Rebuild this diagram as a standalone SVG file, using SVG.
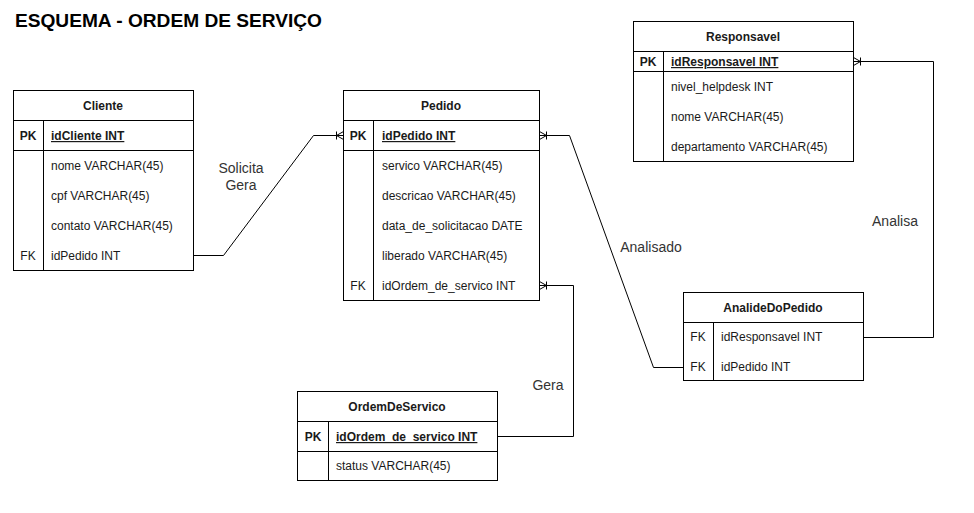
<svg xmlns="http://www.w3.org/2000/svg" width="974" height="513" viewBox="0 0 974 513">
<style>
  .box { fill: #ffffff; stroke: #000000; stroke-width: 1; }
  .ln { stroke: #000000; stroke-width: 1; fill: none; }
  .t { font-family: "Liberation Sans", Arial, sans-serif; font-size: 12px; fill: #1a1a1a; }
  .h { font-family: "Liberation Sans", Arial, sans-serif; font-size: 12px; font-weight: bold; fill: #1a1a1a; text-anchor: middle; }
  .k { text-anchor: middle; }
  .pk { font-weight: bold; }
  .u { text-decoration: underline; }
  .lbl { font-family: "Liberation Sans", Arial, sans-serif; font-size: 14px; fill: #333333; text-anchor: middle; }
  .title { font-family: "Liberation Sans", Arial, sans-serif; font-size: 18px; font-weight: bold; fill: #000000; }
</style>
<defs>
  <marker id="oneMany" markerUnits="userSpaceOnUse" viewBox="-10 -6 12 12" refX="0" refY="0" markerWidth="12" markerHeight="12" orient="auto-start-reverse">
    <path d="M -7 0 L 0 -4 M -7 0 L 0 4 M -7 -4 L -7 4" fill="none" stroke="#000000" stroke-width="1"/>
  </marker>
</defs>
<rect width="974" height="513" fill="#ffffff"/>

<text class="title" x="15" y="27" textLength="307" lengthAdjust="spacingAndGlyphs">ESQUEMA - ORDEM DE SERVIÇO</text>

<g id="connectors">
  <polyline class="ln" points="193.5,255.5 223.5,255.5 313.5,135.5 343.5,135.5" marker-end="url(#oneMany)"/>
  <polyline class="ln" points="539.5,135.5 569.5,135.5 653.5,367.5 683.5,367.5" marker-start="url(#oneMany)"/>
  <polyline class="ln" points="539.5,285.5 573.5,285.5 573.5,436.5 497.5,436.5" marker-start="url(#oneMany)"/>
  <polyline class="ln" points="863.5,337.5 933.5,337.5 933.5,61.5 853.5,61.5" marker-end="url(#oneMany)"/>
  <text class="lbl" x="241" y="173">Solicita</text>
  <text class="lbl" x="241" y="190">Gera</text>
  <text class="lbl" x="651" y="252">Analisado</text>
  <text class="lbl" x="895" y="226">Analisa</text>
  <text class="lbl" x="548" y="390">Gera</text>
</g>

<g id="cliente">
  <rect class="box" x="13.5" y="90.5" width="180" height="180"/>
  <line class="ln" x1="13.5" y1="120.5" x2="193.5" y2="120.5"/>
  <line class="ln" x1="13.5" y1="150.5" x2="193.5" y2="150.5"/>
  <line class="ln" x1="43.5" y1="120.5" x2="43.5" y2="270.5"/>
  <text class="h" x="103" y="110">Cliente</text>
  <text class="t k pk" x="28" y="140">PK</text>
  <text class="t pk u" x="51" y="140">idCliente INT</text>
  <text class="t" x="51" y="170">nome VARCHAR(45)</text>
  <text class="t" x="51" y="200">cpf VARCHAR(45)</text>
  <text class="t" x="51" y="230">contato VARCHAR(45)</text>
  <text class="t k" x="28" y="260">FK</text>
  <text class="t" x="51" y="260">idPedido INT</text>
</g>

<g id="pedido">
  <rect class="box" x="343.5" y="90.5" width="196" height="210"/>
  <line class="ln" x1="343.5" y1="120.5" x2="539.5" y2="120.5"/>
  <line class="ln" x1="343.5" y1="150.5" x2="539.5" y2="150.5"/>
  <line class="ln" x1="373.5" y1="120.5" x2="373.5" y2="300.5"/>
  <text class="h" x="441" y="110">Pedido</text>
  <text class="t k pk" x="358" y="140">PK</text>
  <text class="t pk u" x="382" y="140">idPedido INT</text>
  <text class="t" x="382" y="170">servico VARCHAR(45)</text>
  <text class="t" x="382" y="200">descricao VARCHAR(45)</text>
  <text class="t" x="382" y="230">data_de_solicitacao DATE</text>
  <text class="t" x="382" y="260">liberado VARCHAR(45)</text>
  <text class="t k" x="358" y="290">FK</text>
  <text class="t" x="382" y="290">idOrdem_de_servico INT</text>
</g>

<g id="responsavel">
  <rect class="box" x="633.5" y="21.5" width="220" height="140"/>
  <line class="ln" x1="633.5" y1="51.5" x2="853.5" y2="51.5"/>
  <line class="ln" x1="633.5" y1="71.5" x2="853.5" y2="71.5"/>
  <line class="ln" x1="663.5" y1="51.5" x2="663.5" y2="161.5"/>
  <text class="h" x="743" y="41">Responsavel</text>
  <text class="t k pk" x="648" y="66">PK</text>
  <text class="t pk u" x="671" y="66">idResponsavel INT</text>
  <text class="t" x="671" y="91">nivel_helpdesk INT</text>
  <text class="t" x="671" y="121">nome VARCHAR(45)</text>
  <text class="t" x="671" y="151">departamento VARCHAR(45)</text>
</g>

<g id="analidedopedido">
  <rect class="box" x="683.5" y="292.5" width="180" height="88"/>
  <line class="ln" x1="683.5" y1="322.5" x2="863.5" y2="322.5"/>
  <line class="ln" x1="713.5" y1="322.5" x2="713.5" y2="380.5"/>
  <text class="h" x="773" y="312">AnalideDoPedido</text>
  <text class="t k" x="698" y="341">FK</text>
  <text class="t" x="721" y="341">idResponsavel INT</text>
  <text class="t k" x="698" y="371">FK</text>
  <text class="t" x="721" y="371">idPedido INT</text>
</g>

<g id="ordemdeservico">
  <rect class="box" x="297.5" y="391.5" width="200" height="89"/>
  <line class="ln" x1="297.5" y1="421.5" x2="497.5" y2="421.5"/>
  <line class="ln" x1="297.5" y1="451.5" x2="497.5" y2="451.5"/>
  <line class="ln" x1="328.5" y1="421.5" x2="328.5" y2="480.5"/>
  <text class="h" x="397" y="411">OrdemDeServico</text>
  <text class="t k pk" x="313" y="441">PK</text>
  <text class="t pk u" x="336" y="441">idOrdem_de_servico INT</text>
  <text class="t" x="336" y="470">status VARCHAR(45)</text>
</g>
</svg>
